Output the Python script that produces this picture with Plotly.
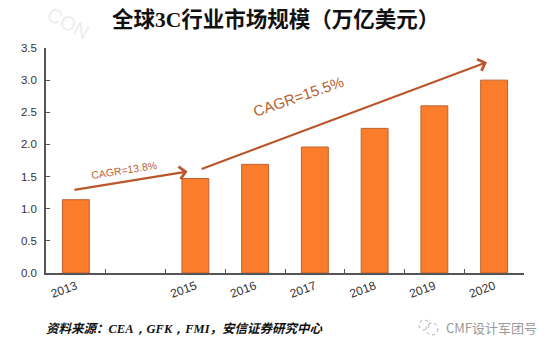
import plotly.graph_objects as go

years = ["2013", "2014", "2015", "2016", "2017", "2018", "2019", "2020"]
tick_labels = ["2013", "", "2015", "2016", "2017", "2018", "2019", "2020"]
values = [1.14, None, 1.47, 1.69, 1.96, 2.25, 2.60, 3.00]
y_ticks = [0, 0.5, 1, 1.5, 2, 2.5, 3, 3.5]
title = "全球<span style='font-family:Liberation Serif'>3C</span>行业市场规模（万亿美元）"
source = "资料来源：<span style='font-family:Liberation Serif'>CEA，GFK，FMI</span>，安信证券研究中心"
brand = "CMF设计军团号"

FONT = "Liberation Sans, Noto Sans CJK SC"
ORANGE = "#fb7d2b"
EDGE = "#bd6230"
ARROW = "#b9562a"
AXIS = "#555555"
L, R, T, B = 46, 30, 48, 79
W, H = 554, 352

fig = go.Figure(go.Bar(x=years, y=values, width=0.45,
                       marker=dict(color=ORANGE, line=dict(color=EDGE, width=1))))

def arrow(x0, y0, x1, y1):
    fig.add_annotation(x=x1, y=y1, ax=x0, ay=y0, xref="x", yref="y", axref="x", ayref="y",
                       text="", showarrow=True, arrowhead=4, arrowsize=1.1, arrowwidth=2.2,
                       arrowcolor=ARROW)

arrow(-0.05, 1.29, 1.87, 1.58)
arrow(2.08, 1.61, 6.88, 3.28)

fig.add_annotation(x=0.80, y=1.60, xref="x", yref="y", text="CAGR=13.8%", showarrow=False,
                   textangle=-9, font=dict(family=FONT, size=10.5, color="#b9602f"))
fig.add_annotation(x=3.72, y=2.75, xref="x", yref="y", text="CAGR=15.5%", showarrow=False,
                   textangle=-19, font=dict(family=FONT, size=15, color="#b9602f"))

fig.update_layout(
    width=W, height=H, margin=dict(l=L, r=R, t=T, b=B, autoexpand=False),
    paper_bgcolor="white", plot_bgcolor="white", showlegend=False,
    font=dict(family=FONT),
    xaxis=dict(type="category", categoryorder="array", categoryarray=years,
               tickmode="array", tickvals=years, ticktext=tick_labels,
               tickson="boundaries", ticks="inside", ticklen=4, tickcolor=AXIS,
               showline=True, linecolor=AXIS, linewidth=1.5, showgrid=False,
               tickangle=-20, tickfont=dict(size=12, color="#333333")),
    yaxis=dict(range=[0, 3.5], tickvals=y_ticks, tickformat=".1f", ticks="inside", ticklen=4,
               tickcolor=AXIS, showline=True, linecolor=AXIS, linewidth=1.5, showgrid=False,
               zeroline=False, ticklabelstandoff=5, tickfont=dict(size=11.5, color="#333333")),
)

def px_x(px):
    return (px - L) / (W - L - R)

def px_y(py):
    return 1 - (py - T) / (H - T - B)

def page_text(text, px, py, **kw):
    fig.add_annotation(x=px_x(px), y=px_y(py), xref="paper", yref="paper", text=text,
                       xanchor="center", yanchor="middle", showarrow=False, **kw)

page_text("CON", 68, 23, textangle=28, font=dict(family="Liberation Sans", size=20, color="#ededed"))
page_text(f"<b>{title}</b>", 275, 17, font=dict(family="Noto Sans CJK SC", size=21.5, color="#111111"))
page_text(f"<b><i>{source}</i></b>", 184, 327, font=dict(family="Noto Sans CJK SC", size=12.5, color="#111111"))
page_text(brand, 491, 327, font=dict(family="Noto Sans CJK SC", size=13, color="#9a9a9a"))

for (cx, cy, r) in [(424, 325, 5), (432, 329, 6)]:
    fig.add_shape(type="circle", xref="paper", yref="paper",
                  x0=px_x(cx-r), x1=px_x(cx+r), y0=px_y(cy+r), y1=px_y(cy-r),
                  line=dict(color="#a8a8a8", width=1, dash="dot"))

fig.write_html("out.html", config={"displayModeBar": False},
               post_script="document.body.style.margin='0';")
